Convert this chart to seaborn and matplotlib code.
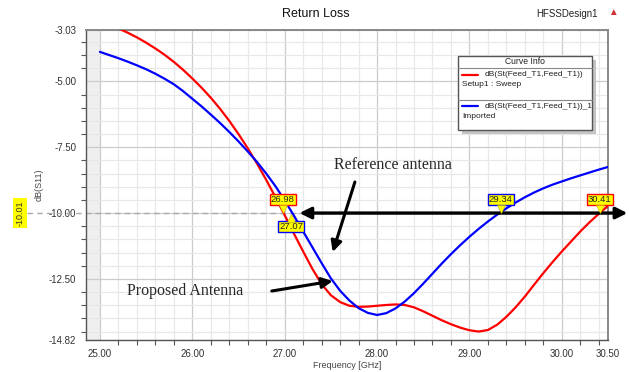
import numpy as np
import pandas as pd
import matplotlib
matplotlib.use('Agg')
import matplotlib.pyplot as plt
import matplotlib.transforms as mtransforms
from matplotlib.ticker import FixedLocator, MultipleLocator
from matplotlib.patches import Rectangle
from matplotlib.lines import Line2D
import seaborn as sns

# Frequenze (GHz) e curve S11 (dB)
freq = [25.0, 25.1, 25.2, 25.3, 25.4, 25.5, 25.6, 25.7, 25.8, 25.9,
        26.0, 26.1, 26.2, 26.3, 26.4, 26.5, 26.6, 26.7, 26.8, 26.9,
        27.0, 27.1, 27.2, 27.3, 27.4, 27.5, 27.6, 27.7, 27.8, 27.9,
        28.0, 28.1, 28.2, 28.3, 28.4, 28.5, 28.6, 28.7, 28.8, 28.9,
        29.0, 29.1, 29.2, 29.3, 29.4, 29.5, 29.6, 29.7, 29.8, 29.9,
        30.0, 30.1, 30.2, 30.3, 30.4, 30.5]

s11_proposed = [-2.72, -2.85, -2.99, -3.15, -3.33, -3.53, -3.75, -3.99, -4.26, -4.56,
                -4.89, -5.24, -5.62, -6.04, -6.50, -7.00, -7.54, -8.12, -8.74, -9.40,
                -10.08, -10.78, -11.46, -12.12, -12.70, -13.12, -13.38, -13.52, -13.56, -13.55,
                -13.52, -13.49, -13.47, -13.49, -13.58, -13.73, -13.90, -14.07, -14.22, -14.35,
                -14.45, -14.50, -14.44, -14.24, -13.94, -13.58, -13.17, -12.72, -12.28, -11.86,
                -11.46, -11.08, -10.70, -10.35, -10.03, -9.73]

s11_reference = [-3.88, -4.00, -4.12, -4.25, -4.39, -4.54, -4.71, -4.90, -5.11, -5.37,
                 -5.66, -5.95, -6.26, -6.58, -6.92, -7.28, -7.66, -8.06, -8.50, -8.98,
                 -9.52, -10.10, -10.70, -11.30, -11.90, -12.48, -12.95, -13.32, -13.61, -13.79,
                 -13.87, -13.80, -13.62, -13.36, -13.04, -12.68, -12.30, -11.92, -11.56, -11.22,
                 -10.90, -10.60, -10.32, -10.06, -9.82, -9.60, -9.40, -9.22, -9.06, -8.92,
                 -8.80, -8.68, -8.57, -8.46, -8.35, -8.25]

x_ticks = [25.0, 26.0, 27.0, 28.0, 29.0, 30.0, 30.5]
y_ticks = [-3.03, -5.00, -7.50, -10.00, -12.50, -14.82]

# marker a -10 dB
marker_freqs = [26.98, 27.07, 29.34, 30.41]
marker_series = ['proposed', 'reference', 'reference', 'proposed']
marker_above = [True, False, True, True]
marker_level = -10.0
y_marker_label = '-10.01'

colors = {'proposed': '#ff0000', 'reference': '#0000ff'}

df = pd.DataFrame({
    'freq': freq * 2,
    's11': s11_proposed + s11_reference,
    'curve': ['proposed'] * len(freq) + ['reference'] * len(freq),
})

sns.set_style('white')
plt.rcParams['font.family'] = ['Liberation Sans', 'DejaVu Sans']

W, H = 629, 372
fig = plt.figure(figsize=(W / 100, H / 100), dpi=100)
ax = fig.add_axes([86 / W, 1 - 340 / H, (608 - 86) / W, (340 - 29.5) / H])

def fp(x, y):
    # pixel dall'alto a sinistra -> coordinate figura
    return x / W, 1 - y / H

ax.axvspan(24.849, 25.0, color='#efefef', zorder=0, lw=0)

sns.lineplot(data=df, x='freq', y='s11', hue='curve', palette=colors,
             linewidth=1.6, legend=False, ax=ax, zorder=3)

ax.set_xlim(24.849, 30.5)
ax.set_ylim(-14.82, -3.03)
ax.xaxis.set_major_locator(FixedLocator(x_ticks))
ax.yaxis.set_major_locator(FixedLocator(y_ticks))
ax.xaxis.set_minor_locator(MultipleLocator(0.2))
ax.yaxis.set_minor_locator(MultipleLocator(0.5))
ax.set_xticklabels([f'{v:.2f}' for v in x_ticks])
ax.set_yticklabels([f'{v:.2f}' for v in y_ticks])
ax.grid(which='major', color='#cccccc', lw=0.9, zorder=0)
ax.grid(which='minor', color='#e8e8e8', lw=0.9, zorder=0)
ax.set_axisbelow(True)
ax.tick_params(which='major', direction='out', length=5, width=0.8, color='#555555',
               labelsize=7, labelcolor='#333333', pad=2)
ax.tick_params(axis='x', which='major', pad=1.5)
ax.tick_params(which='minor', direction='out', length=3.5, width=0.8, color='#555555')
ax.tick_params(axis='x', which='minor', bottom=True)
ax.tick_params(axis='y', which='minor', left=True)
for lab in ax.get_yticklabels():
    lab.set_bbox(dict(fc='white', ec='none', pad=0.5))
for side in ['left', 'bottom']:
    ax.spines[side].set_color('#555555')
    ax.spines[side].set_linewidth(1.0)
for side in ['top', 'right']:
    ax.spines[side].set_color('#888888')
    ax.spines[side].set_linewidth(1.4)

ax.set_xlabel('Frequency [GHz]', fontsize=6.5, color='#444444', labelpad=1.5)
ax.set_ylabel('dB(S11)', fontsize=6.5, color='#444444', labelpad=4)

# linea tratteggiata a -10 dB
blend = mtransforms.blended_transform_factory(ax.transAxes, ax.transData)
ax.add_line(Line2D([(27 - 86) / 522, 1.0], [marker_level, marker_level], transform=blend,
                   color='#aaaaaa', lw=1.0, dashes=(4, 3), clip_on=False, zorder=1))
fig.text(*fp(20, 213), y_marker_label, rotation=90, ha='center', va='center', fontsize=6.5,
         color='#333333', bbox=dict(fc='#ffff00', ec='none', pad=1.5))

# frecce nere
ax.annotate('', xy=(30.71, marker_level), xytext=(27.16, marker_level),
            arrowprops=dict(arrowstyle='<|-|>', color='black', lw=2.4, mutation_scale=17,
                            shrinkA=0, shrinkB=0), annotation_clip=False, zorder=6)
ax.annotate('', xy=(27.52, -11.48), xytext=(27.76, -8.82),
            arrowprops=dict(arrowstyle='-|>', color='black', lw=2.2, mutation_scale=16,
                            shrinkA=0, shrinkB=0), zorder=6)
ax.annotate('', xy=(27.52, -12.58), xytext=(26.86, -12.96),
            arrowprops=dict(arrowstyle='-|>', color='black', lw=2.2, mutation_scale=16,
                            shrinkA=0, shrinkB=0), zorder=6)
ax.text(27.53, -8.18, 'Reference antenna', family=['Liberation Serif'], fontsize=11.5,
        ha='left', va='center', zorder=7)
ax.text(25.29, -12.96, 'Proposed Antenna', family=['Liberation Serif'], fontsize=11.5,
        ha='left', va='center', zorder=7)

# etichette dei marker
for f, s, up in zip(marker_freqs, marker_series, marker_above):
    sign = 1 if up else -1
    ax.annotate(f'{f:.2f}', xy=(f, marker_level), xytext=(0, sign * 13.5),
                textcoords='offset pixels', ha='center', va='center', fontsize=6.8,
                color='#222222', zorder=8, annotation_clip=False,
                bbox=dict(boxstyle='square,pad=0.12', fc='#ffff00', ec=colors[s], lw=1.0))
    tr = mtransforms.offset_copy(ax.transData, fig=fig, x=0, y=sign * 4.5, units='dots')
    ax.plot([f], [marker_level], marker='v' if up else '^', ms=6, mfc='#ffff00',
            mec='#c8b400', mew=0.4, transform=tr, zorder=9, clip_on=False)

# titolo e intestazioni
fig.text(*fp(316, 14), 'Return Loss', ha='center', va='center', fontsize=9, color='#111111')
fig.text(*fp(567, 14), 'HFSSDesign1', ha='center', va='center', fontsize=7, color='#222222')
fig.text(*fp(613, 12), '▲', ha='center', va='center', fontsize=7, color='#d03030')

# riquadro Curve Info
x0, y0, x1, y1 = 458, 56, 592, 130
fig.patches.append(Rectangle(fp(x0 + 4, y1 + 4), (x1 - x0) / W, (y1 - y0) / H,
                             transform=fig.transFigure, fc='#c4c4c4', ec='none', zorder=10))
fig.patches.append(Rectangle(fp(x0, y1), (x1 - x0) / W, (y1 - y0) / H,
                             transform=fig.transFigure, fc='white', ec='#555555', lw=1.0,
                             zorder=11))
for yy in [68, 100]:
    fig.lines.append(Line2D([x0 / W, x1 / W], [1 - yy / H] * 2, transform=fig.transFigure,
                            color='#888888', lw=0.8, zorder=12))
fig.text(*fp((x0 + x1) / 2, 62), 'Curve Info', ha='center', va='center', fontsize=6.2,
         color='#222222', zorder=13)
for yy, key, name, sub in [(75, 'proposed', 'dB(St(Feed_T1,Feed_T1))', 'Setup1 : Sweep'),
                           (106, 'reference', 'dB(St(Feed_T1,Feed_T1))_1', 'Imported')]:
    fig.lines.append(Line2D([462 / W, 478 / W], [1 - yy / H] * 2, transform=fig.transFigure,
                            color=colors[key], lw=1.6, zorder=12))
    fig.text(*fp(485, yy), name, ha='left', va='center', fontsize=6, color='#222222', zorder=13)
    fig.text(*fp(462, yy + 10), sub, ha='left', va='center', fontsize=6, color='#222222',
             zorder=13)

fig.savefig('out.png', dpi=100)
